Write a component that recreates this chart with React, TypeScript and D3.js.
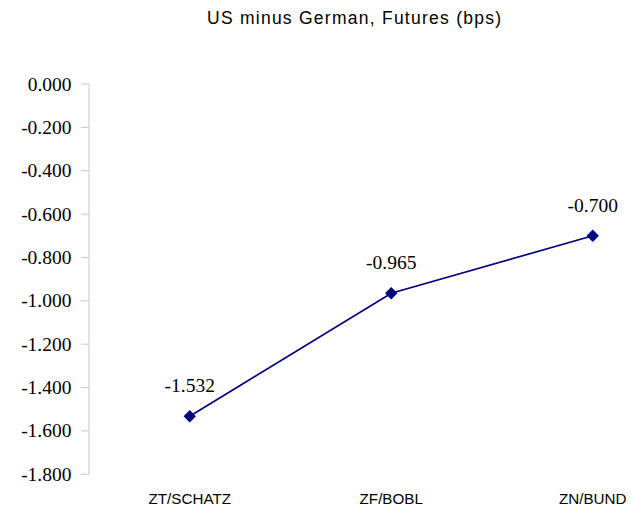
import React from "react";
import * as d3 from "d3";

const categories = ["ZT/SCHATZ", "ZF/BOBL", "ZN/BUND"];
const values = [-1.532, -0.965, -0.7];
const yTicks = [0, -0.2, -0.4, -0.6, -0.8, -1.0, -1.2, -1.4, -1.6, -1.8];
const title = "US minus German, Futures (bps)";

const fmt = (v: number) => d3.format(".3f")(v).replace("\u2212", "-");

export default function App() {
  const W = 631, H = 508;
  const axisX = 89;
  const band = 201.5;
  const x = d3.scaleBand<string>().domain(categories).range([axisX, axisX + band * categories.length]);
  const y = d3.scaleLinear().domain([-1.8, 0]).range([474.3, 84]);
  const cxOf = (i: number) => (x(categories[i]) as number) + x.bandwidth() / 2;
  const line = d3.line<number>()
    .x((_, i) => cxOf(i))
    .y((d) => y(d));
  const r = 6.2;
  const diamond = `M0,${-r}L${r},0L0,${r}L${-r},0Z`;
  return (
    <svg width={W} height={H} style={{ position: "absolute", left: 0, top: 0, background: "#fff" }}>
      <text x={207} y={24} textLength={294} lengthAdjust="spacing" fontFamily="Liberation Sans, Arial, sans-serif" fontSize={17.5} fill="#000">{title}</text>
      <line x1={axisX} x2={axisX} y1={y(0)} y2={y(-1.8)} stroke="#c8c8c8" strokeWidth={1} />
      {yTicks.map((t) => (
        <g key={t}>
          <line x1={axisX - 8} x2={axisX} y1={y(t)} y2={y(t)} stroke="#c8c8c8" strokeWidth={1} />
          <text x={71.5} y={y(t) + 6.5} textAnchor="end" fontFamily="Liberation Serif, Times New Roman, serif" fontSize={19.5} fill="#000">{fmt(t)}</text>
        </g>
      ))}
      {categories.map((c, i) => (
        <text key={c} x={cxOf(i)} y={504} textAnchor="middle" fontFamily="Liberation Sans, Arial, sans-serif" fontSize={15.2} fill="#000">{c}</text>
      ))}
      <path d={line(values) || ""} fill="none" stroke="#000080" strokeWidth={1.7} />
      {values.map((v, i) => {
        const cx = cxOf(i);
        return (
          <g key={i}>
            <path d={diamond} transform={`translate(${cx},${y(v)})`} fill="#000080" />
            <text x={cx} y={y(v) - 24} textAnchor="middle" fontFamily="Liberation Serif, Times New Roman, serif" fontSize={19.5} fill="#000">{fmt(v)}</text>
          </g>
        );
      })}
    </svg>
  );
}
